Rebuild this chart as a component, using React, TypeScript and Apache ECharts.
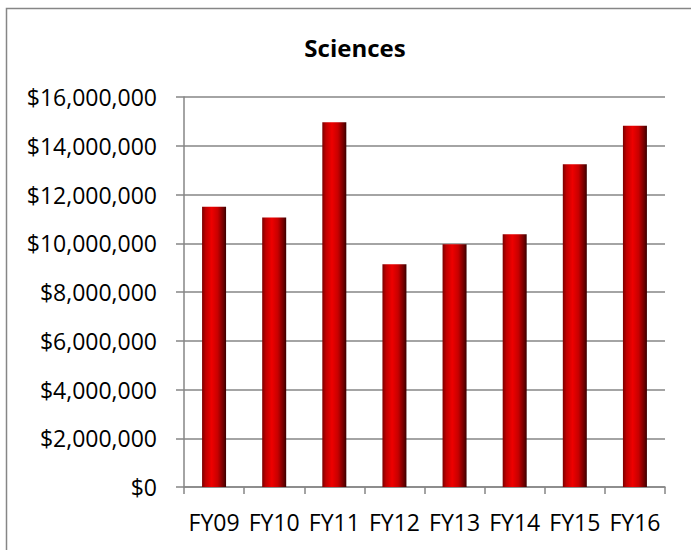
import React, { useEffect, useRef } from "react";
import * as echarts from "echarts";

const categories = ["FY09", "FY10", "FY11", "FY12", "FY13", "FY14", "FY15", "FY16"];
const values = [11500000, 11060000, 14960000, 9140000, 9960000, 10370000, 13240000, 14820000];
const yMin = 0;
const yMax = 16000000;
const yInterval = 2000000;

function fmt(v: number): string {
  return "$" + v.toLocaleString("en-US");
}

export default function App() {
  const ref = useRef<HTMLDivElement>(null);
  useEffect(() => {
    if (!ref.current) return;
    const chart = echarts.init(ref.current, null, { renderer: "svg" });
    const font = "'Open Sans', 'Noto Sans', sans-serif";
    chart.setOption({
      animation: false,
      backgroundColor: "#ffffff",
      title: {
        text: "Sciences",
        left: 350,
        top: 27,
        textAlign: "center",
        textStyle: { fontFamily: font, fontSize: 24, fontWeight: "bold", color: "#000", lineHeight: 30 },
      },
      graphic: [
        {
          type: "rect",
          shape: { x: 6.5, y: 8.5, width: 720, height: 600 },
          style: { fill: "none", stroke: "#868686", lineWidth: 1.5 },
          silent: true,
          z: -1,
        },
      ],
      grid: { left: 184, right: 26, top: 97, bottom: 63, containLabel: false },
      xAxis: {
        type: "category",
        data: categories,
        axisLine: { show: true, lineStyle: { color: "#868686", width: 1.5 } },
        axisTick: { show: true, length: 7, lineStyle: { color: "#868686", width: 1.5 } },
        axisLabel: { fontFamily: font, fontSize: 23, color: "#000", margin: 23, interval: 0, hideOverlap: false },
        splitLine: { show: false },
      },
      yAxis: {
        type: "value",
        min: yMin,
        max: yMax,
        interval: yInterval,
        axisLine: { show: true, lineStyle: { color: "#868686", width: 1.5 } },
        axisTick: { show: true, length: 8, lineStyle: { color: "#868686", width: 1.5 } },
        axisLabel: { fontFamily: font, fontSize: 23, color: "#000", margin: 27, formatter: (v: number) => fmt(v) },
        splitLine: { show: true, lineStyle: { color: "#868686", width: 1.5 } },
      },
      series: [
        {
          type: "bar",
          data: values,
          barWidth: 24,
          itemStyle: {
            color: new echarts.graphic.LinearGradient(0, 0, 1, 0, [
              { offset: 0, color: "#7a0000" },
              { offset: 0.15, color: "#c00000" },
              { offset: 0.4, color: "#ee0000" },
              { offset: 0.65, color: "#c80000" },
              { offset: 0.9, color: "#6a0000" },
              { offset: 1, color: "#3a0000" },
            ]),
          },
        },
      ],
    });
    return () => chart.dispose();
  }, []);
  return (
    <div
      ref={ref}
      style={{ position: "fixed", left: 0, top: 0, width: 691, height: 550 }}
    />
  );
}
